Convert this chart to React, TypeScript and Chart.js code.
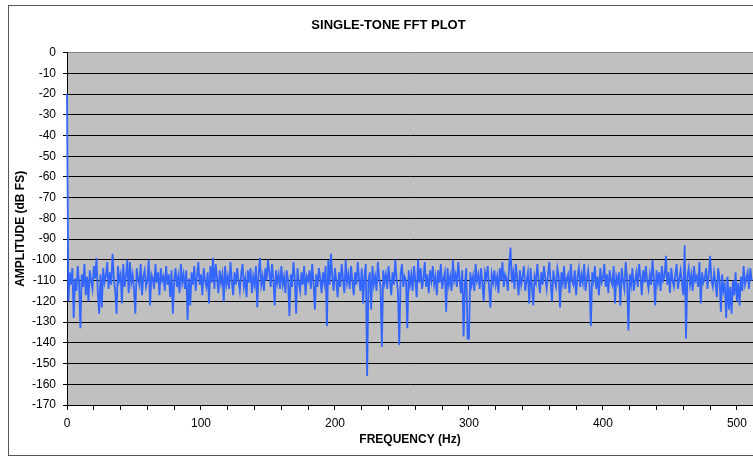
import React, { useEffect, useRef } from "react";
import { Chart, registerables } from "chart.js";

Chart.register(...registerables);

const chartTitle = "SINGLE-TONE FFT PLOT";
const xAxisTitle = "FREQUENCY (Hz)";
const yAxisTitle = "AMPLITUDE (dB FS)";

// Amplitude (dB FS) per 1 Hz FFT bin, bins 0..511
const amplitudeDbFs: number[] = [
  -20, -120, -106, -112, -104, -128, -109, -115, -103, -111, -133, -107, -113, -102, -117, -108,
  -120, -105, -110, -114, -103, -109, -99, -116, -126, -107, -123, -104, -111, -108, -101, -114,
  -106, -112, -97, -109, -115, -126, -103, -110, -107, -121, -102, -113, -108, -100, -116, -101,
  -111, -107, -114, -126, -104, -109, -112, -102, -117, -108, -105, -113, -110, -100, -122, -107,
  -109, -114, -102, -111, -106, -117, -104, -110, -108, -115, -103, -112, -107, -118, -105, -126,
  -110, -104, -113, -108, -116, -102, -111, -107, -114, -105, -129, -109, -122, -106, -112, -103,
  -115, -108, -101, -112, -107, -117, -104, -110, -113, -106, -121, -103, -111, -99, -114, -102,
  -109, -116, -105, -111, -107, -120, -103, -112, -108, -114, -101, -110, -117, -106, -112, -104,
  -110, -115, -107, -102, -113, -109, -118, -105, -111, -104, -116, -108, -112, -103, -123, -107,
  -99, -112, -108, -115, -104, -110, -100, -106, -113, -102, -109, -122, -105, -111, -107, -114,
  -103, -112, -108, -116, -105, -110, -127, -107, -113, -101, -109, -126, -104, -111, -115, -106,
  -112, -103, -117, -108, -110, -105, -114, -102, -111, -124, -107, -113, -104, -109, -116, -106,
  -111, -103, -132, -100, -112, -97, -108, -115, -104, -110, -118, -106, -113, -102, -109, -116,
  -100, -111, -107, -114, -103, -110, -117, -106, -112, -101, -109, -115, -104, -121, -108, -102,
  -156, -110, -106, -124, -103, -112, -108, -115, -101, -109, -113, -142, -105, -111, -107, -114,
  -103, -110, -117, -106, -112, -100, -109, -115, -141, -107, -102, -113, -108, -110, -133, -105,
  -112, -107, -115, -103, -110, -118, -100, -111, -104, -114, -109, -101, -113, -107, -116, -105,
  -110, -103, -112, -108, -117, -105, -111, -102, -114, -109, -106, -125, -104, -112, -108, -115,
  -100, -110, -107, -113, -101, -109, -116, -105, -137, -111, -104, -138, -138, -106, -112, -108,
  -115, -102, -110, -107, -114, -104, -111, -120, -106, -109, -103, -113, -123, -107, -111, -105,
  -112, -108, -116, -104, -110, -101, -113, -107, -109, -115, -103, -94, -111, -106, -114, -102,
  -109, -117, -105, -112, -108, -103, -115, -110, -106, -121, -104, -113, -122, -108, -111, -102,
  -110, -116, -106, -112, -103, -109, -114, -107, -101, -111, -120, -105, -110, -113, -104, -108,
  -123, -106, -111, -103, -114, -109, -107, -116, -102, -110, -112, -105, -117, -108, -104, -113,
  -107, -111, -102, -115, -109, -105, -112, -132, -106, -110, -103, -114, -108, -117, -104, -111,
  -109, -102, -113, -107, -116, -105, -110, -112, -103, -121, -108, -111, -106, -122, -104, -110,
  -114, -101, -109, -134, -107, -112, -104, -115, -110, -106, -113, -102, -108, -117, -105, -111,
  -103, -110, -114, -107, -112, -100, -109, -122, -105, -111, -106, -115, -103, -110, -108, -98,
  -112, -106, -116, -104, -110, -113, -107, -102, -114, -109, -105, -111, -117, -93, -138, -108,
  -104, -112, -107, -115, -103, -110, -108, -113, -101, -121, -106, -111, -109, -104, -114, -107,
  -98, -110, -113, -106, -111, -118, -104, -109, -125, -107, -115, -112, -128, -108, -124, -113,
  -126, -110, -117, -106, -120, -111, -122, -108, -115, -103, -112, -109, -106, -114, -104, -110,
];

// Frequency of each bin in Hz (1 Hz bins)
const frequencyHz: number[] = amplitudeDbFs.map((_, i) => i);

const xMin = 0;
const xMax = 512;
const xStep = 20;
const xLabelEvery = 100;
const yMin = -170;
const yMax = 0;
const yStep = 10;

const FONT = "'Liberation Sans', Arial, Helvetica, sans-serif";

export default function App() {
  const ref = useRef<HTMLCanvasElement | null>(null);

  useEffect(() => {
    if (!ref.current) return;
    const bgPlugin = {
      id: "plotBg",
      beforeDraw(chart: any) {
        const { ctx, chartArea } = chart;
        ctx.save();
        ctx.fillStyle = "#C0C0C0";
        ctx.fillRect(chartArea.left, chartArea.top, chartArea.right - chartArea.left, chartArea.bottom - chartArea.top);
        ctx.strokeStyle = "#555555";
        ctx.lineWidth = 1;
        ctx.strokeRect(8.5, 5.5, 760, 450);
        ctx.restore();
      },
    };

    const chart = new Chart(ref.current, {
      type: "line",
      data: {
        datasets: [
          {
            data: frequencyHz.map((f, i) => ({ x: f, y: amplitudeDbFs[i] })),
            borderColor: "#3366FF",
            borderWidth: 1.8,
            pointRadius: 0,
            tension: 0,
            fill: false,
            clip: false,
          },
        ],
      },
      options: {
        animation: false,
        responsive: false,
        maintainAspectRatio: false,
        layout: { padding: { left: 9, top: 6, right: 2, bottom: 0 } },
        plugins: {
          legend: { display: false },
          tooltip: { enabled: false },
          title: {
            display: true,
            text: chartTitle,
            color: "#000",
            font: { family: FONT, size: 13, weight: "bold" },
            padding: { top: 12, bottom: 19 },
          },
        },
        scales: {
          x: {
            type: "linear",
            min: xMin,
            max: xMax,
            grid: {
              display: true,
              drawOnChartArea: false,
              drawTicks: true,
              tickLength: 5,
              tickColor: "#000",
            },
            border: { display: true, color: "#000", width: 1 },
            ticks: {
              stepSize: xStep,
              includeBounds: false,
              autoSkip: false,
              maxRotation: 0,
              minRotation: 0,
              padding: 6,
              color: "#000",
              font: { family: FONT, size: 12 },
              callback: (v: any) => (Number(v) % xLabelEvery === 0 ? String(v) : ""),
            },
            title: {
              display: true,
              text: xAxisTitle,
              color: "#000",
              font: { family: FONT, size: 12, weight: "bold" },
              padding: { top: 2, bottom: 10 },
            },
            afterFit: (s: any) => {
              s.height = 52;
            },
          },
          y: {
            type: "linear",
            min: yMin,
            max: yMax,
            grid: {
              display: true,
              drawOnChartArea: true,
              drawTicks: true,
              tickLength: 4,
              color: (c: any) => (c.tick && c.tick.value === 0 ? "#808080" : "#000"),
              tickColor: "#000",
              lineWidth: 1,
            },
            border: { display: true, color: "#000", width: 1 },
            ticks: {
              stepSize: yStep,
              padding: 7,
              color: "#000",
              font: { family: FONT, size: 12 },
            },
            title: {
              display: true,
              text: yAxisTitle,
              color: "#000",
              font: { family: FONT, size: 12, weight: "bold" },
              padding: { top: 4, bottom: 0 },
            },
            afterFit: (s: any) => {
              s.width = 58;
            },
          },
          yRight: {
            type: "linear",
            position: "right",
            display: true,
            grid: { display: false, drawTicks: false },
            border: { display: false },
            ticks: { display: false },
            afterFit: (s: any) => {
              s.width = 15;
            },
          },
        },
      },
      plugins: [bgPlugin],
    } as any);
    return () => chart.destroy();
  }, []);

  return (
    <div
      style={{
        position: "fixed",
        left: 0,
        top: 0,
        width: 753,
        height: 457,
        overflow: "hidden",
        background: "#fff",
      }}
    >
      <canvas ref={ref} width={770} height={457} style={{ display: "block" }} />
    </div>
  );
}
